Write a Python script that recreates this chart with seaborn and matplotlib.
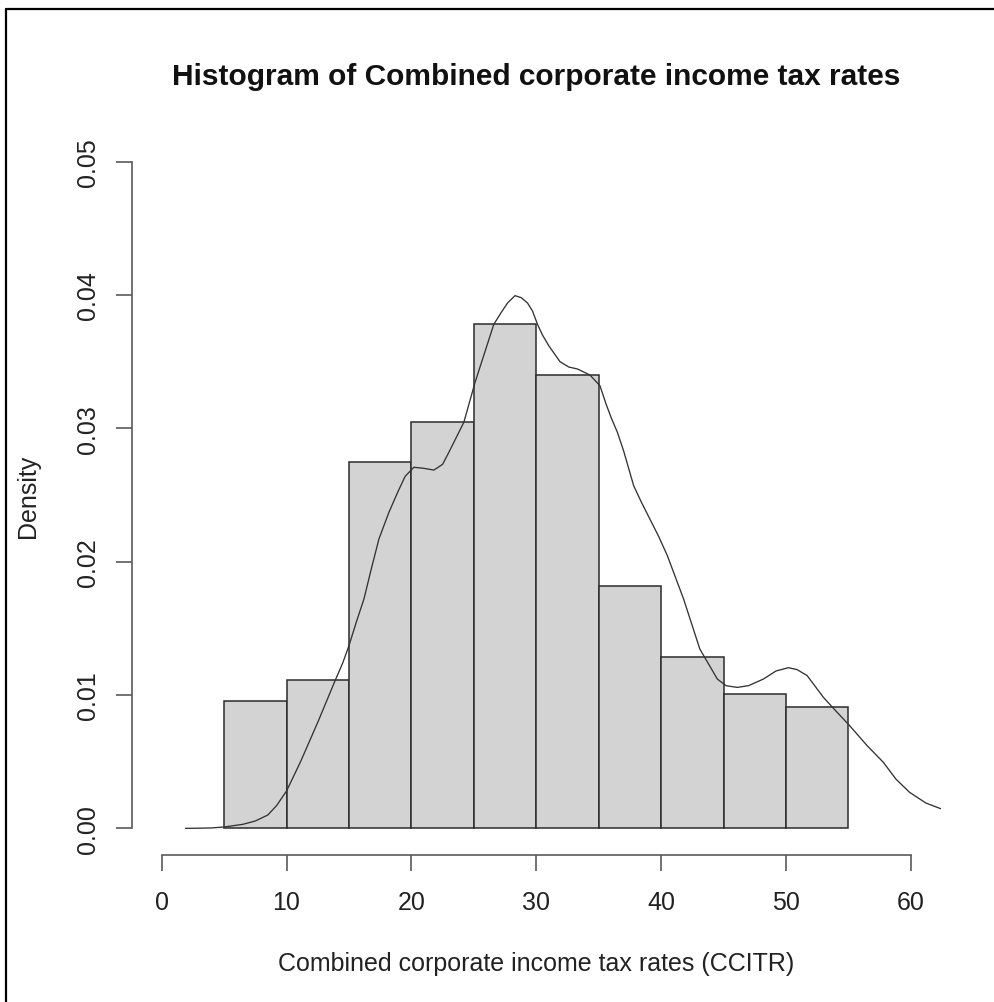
import numpy as np
import pandas as pd
import matplotlib
matplotlib.use("Agg")
import matplotlib.pyplot as plt
from matplotlib.lines import Line2D
import seaborn as sns

# Histogram bins (percent) and their densities
bin_edges = [5, 10, 15, 20, 25, 30, 35, 40, 45, 50, 55]
bin_density = [0.00957, 0.01112, 0.0275, 0.0305, 0.0378, 0.0340,
               0.01815, 0.01282, 0.01007, 0.00907]

# Kernel density estimate of the same rates
kde_x = [1.9, 3.0, 4.0, 5.0, 6.5, 7.5, 8.5, 9.2, 10.0, 11.1, 12.5, 13.9,
         14.5, 15.0, 15.6, 16.2, 16.8, 17.4, 18.2, 18.9, 19.5, 20.2, 21.0,
         21.8, 22.5, 23.0, 24.2, 25.1, 26.6, 27.2, 27.7, 28.3, 28.8, 29.3,
         29.7, 30.1, 30.5, 31.0, 31.9, 32.6, 33.3, 34.3, 35.1, 35.6, 36.0,
         36.5, 37.0, 37.8, 38.4, 39.1, 39.8, 40.5, 41.8, 43.1, 44.5, 45.2,
         46.1, 47.0, 48.2, 49.2, 50.2, 50.9, 51.7, 52.3, 53.0, 54.0, 55.1,
         56.5, 57.8, 58.8, 59.9, 61.2, 62.6]
kde_y = [0.0, 0.00001, 0.00003, 0.0001, 0.0003, 0.00055, 0.0010, 0.0017,
         0.0028, 0.00495, 0.00795, 0.0111, 0.0124, 0.0137, 0.0155, 0.0172,
         0.0195, 0.0217, 0.0237, 0.0252, 0.0264, 0.02708, 0.0270, 0.02687,
         0.0273, 0.0282, 0.03045, 0.03345, 0.0378, 0.0387, 0.0394, 0.03995,
         0.0398, 0.0394, 0.0388, 0.0378, 0.0370, 0.0362, 0.0350, 0.0346,
         0.03445, 0.0340, 0.0332, 0.0318, 0.0308, 0.0297, 0.0283, 0.0257,
         0.0245, 0.0232, 0.0219, 0.02045, 0.0172, 0.01345, 0.0112, 0.0107,
         0.01057, 0.0107, 0.0112, 0.0118, 0.01205, 0.0119, 0.01145, 0.0107,
         0.00982, 0.0088, 0.0077, 0.0062, 0.00495, 0.0037, 0.0027, 0.0019,
         0.0014]

x_ticks = [0, 10, 20, 30, 40, 50, 60]
y_ticks = [0.00, 0.01, 0.02, 0.03, 0.04, 0.05]

title = "Histogram of Combined corporate income tax rates"
x_label = "Combined corporate income tax rates (CCITR)"
y_label = "Density"

sns.set_theme(style="white")
plt.rcParams["font.family"] = ["Liberation Sans", "DejaVu Sans"]

W, H = 995, 1003
fig = plt.figure(figsize=(W / 100, H / 100), dpi=100)
ax_left, ax_right, ax_top, ax_bottom = 131.7, 940.8, 136.0, 856.0
ax = fig.add_axes([ax_left / W, 1 - ax_bottom / H,
                   (ax_right - ax_left) / W, (ax_bottom - ax_top) / H])

centers = [(a + b) / 2 for a, b in zip(bin_edges[:-1], bin_edges[1:])]
hist_df = pd.DataFrame({"rate": centers, "density": bin_density})
sns.histplot(data=hist_df, x="rate", weights="density", bins=bin_edges,
             stat="count", color="#d3d3d3", alpha=1.0,
             edgecolor="#2b2b2b", linewidth=1.1, ax=ax)

kde_df = pd.DataFrame({"rate": kde_x, "density": kde_y})
sns.lineplot(data=kde_df, x="rate", y="density", color="#333333",
             linewidth=0.95, sort=True, ax=ax)

ax.set_xlim(-2.4, 62.4)
ax.set_ylim(-0.002, 0.052)
ax.set_xticks(x_ticks)
ax.set_xticklabels([str(t) for t in x_ticks])
ax.set_yticks(y_ticks)
ax.set_yticklabels([f"{t:.2f}" for t in y_ticks], va="center")

axis_col = "#5a5a5a"
for side in ("top", "right"):
    ax.spines[side].set_visible(False)
ax.spines["bottom"].set_bounds(0, 60)
ax.spines["left"].set_bounds(0, 0.05)
for side in ("bottom", "left"):
    ax.spines[side].set_color(axis_col)
    ax.spines[side].set_linewidth(1.2)

ax.tick_params(axis="both", which="major", direction="out", length=11.5,
               width=1.2, color=axis_col, labelsize=18, labelcolor="#222222",
               bottom=True, left=True)
ax.tick_params(axis="x", pad=14)
ax.tick_params(axis="y", pad=11, labelrotation=90)
ax.grid(False)

ax.set_xlabel(x_label, fontsize=18, color="#222222", va="center")
ax.xaxis.set_label_coords(0.5, (ax_bottom - 964) / (ax_bottom - ax_top))
ax.set_ylabel(y_label, fontsize=18, color="#222222", va="center")
ax.yaxis.set_label_coords((28 - ax_left) / (ax_right - ax_left), 0.5)
ax.set_title(title, fontsize=21.5, fontweight="bold", color="#111111",
             va="center", y=(ax_bottom - 85) / (ax_bottom - ax_top))

# Outer frame lines
fig.add_artist(Line2D([6 / W, 6 / W], [0, 1 - 10 / H], transform=fig.transFigure,
                      color="black", linewidth=1.6))
fig.add_artist(Line2D([6 / W, 1], [1 - 10 / H, 1 - 10 / H], transform=fig.transFigure,
                      color="black", linewidth=1.6))

fig.savefig("out.png", dpi=100, facecolor="white")
